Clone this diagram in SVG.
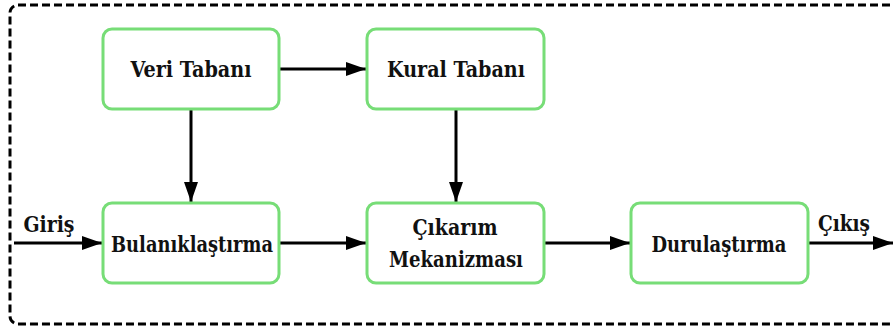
<svg xmlns="http://www.w3.org/2000/svg" width="893" height="333" viewBox="0 0 893 333">
<style>
.node{fill:#fff;stroke:#77dd77;stroke-width:3}
.t{font-family:'DejaVu Serif Condensed','DejaVu Serif',serif;font-stretch:condensed;font-weight:700;font-size:22px;fill:#111;text-anchor:middle}
.c{stroke:#000;stroke-width:3;fill:none}
</style>
<defs>
<marker id="ah" markerWidth="20" markerHeight="14" refX="20" refY="7" orient="auto" markerUnits="userSpaceOnUse">
<path d="M0,0 L20,7 L0,14 Z" fill="#000"/>
</marker>
</defs>
<rect x="10" y="5" width="900" height="319" rx="8" fill="none" stroke="#000" stroke-width="3" stroke-dasharray="8,4"/>
<g id="connectors">
<line class="c" x1="14" y1="243" x2="102" y2="243" marker-end="url(#ah)"/>
<line class="c" x1="279" y1="69" x2="366" y2="69" marker-end="url(#ah)"/>
<line class="c" x1="191" y1="109" x2="191" y2="202" marker-end="url(#ah)"/>
<line class="c" x1="456" y1="109" x2="456" y2="202" marker-end="url(#ah)"/>
<line class="c" x1="279" y1="243" x2="366" y2="243" marker-end="url(#ah)"/>
<line class="c" x1="544" y1="243" x2="630" y2="243" marker-end="url(#ah)"/>
<line class="c" x1="808" y1="243" x2="893" y2="243" marker-end="url(#ah)"/>
</g>
<g id="veri"><rect class="node" x="103" y="29" width="176" height="80" rx="9"/><text class="t" x="191" y="77" textLength="121" lengthAdjust="spacingAndGlyphs">Veri Tabanı</text></g>
<g id="kural"><rect class="node" x="367" y="29" width="177" height="80" rx="9"/><text class="t" x="456" y="77" textLength="138" lengthAdjust="spacingAndGlyphs">Kural Tabanı</text></g>
<g id="bulan"><rect class="node" x="103" y="203" width="176" height="80" rx="9"/><text class="t" x="192" y="252" textLength="162" lengthAdjust="spacingAndGlyphs">Bulanıklaştırma</text></g>
<g id="cikarim"><rect class="node" x="367" y="203" width="177" height="80" rx="9"/><text class="t" x="455" y="235" textLength="85" lengthAdjust="spacingAndGlyphs">Çıkarım</text><text class="t" x="456" y="267" textLength="134" lengthAdjust="spacingAndGlyphs">Mekanizması</text></g>
<g id="durul"><rect class="node" x="631" y="203" width="177" height="80" rx="9"/><text class="t" x="719" y="252" textLength="135" lengthAdjust="spacingAndGlyphs">Durulaştırma</text></g>
<text class="t" x="49" y="232" textLength="51" lengthAdjust="spacingAndGlyphs">Giriş</text>
<text class="t" x="844" y="231" textLength="52" lengthAdjust="spacingAndGlyphs">Çıkış</text>
</svg>
